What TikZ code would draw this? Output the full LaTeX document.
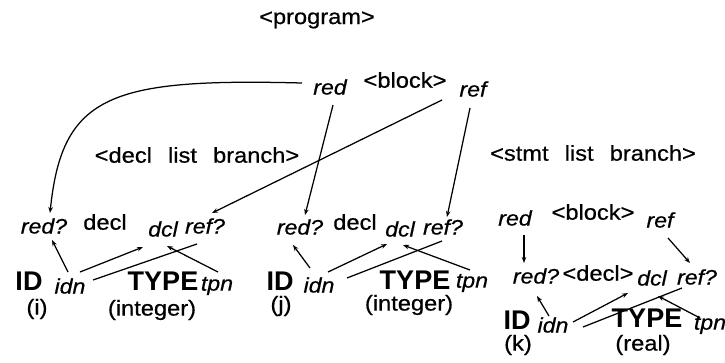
\documentclass[tikz,border=0pt]{standalone}
\usepackage{fontspec}
\setmainfont{Liberation Sans}[FakeStretch=1.1, FakeBold=0.6]
\newfontfamily\tokfont{Liberation Sans}
\usetikzlibrary{arrows.meta,calc}
\tikzset{
  lbl/.style={inner sep=0.5pt, font=\fontsize{21.5}{24}\selectfont},
  wide/.style={lbl, execute at begin node={\spaceskip=0.75em\relax}},
  att/.style={inner sep=0.5pt, font=\fontsize{21}{24}\selectfont\itshape},
  tok/.style={inner sep=0pt, font=\tokfont\fontsize{27}{30}\selectfont\bfseries},
  dep/.style={line width=1.25pt, -{Stealth[length=6pt,width=4.5pt]}},
  lnk/.style={line width=1.25pt}
}
\begin{document}
\begin{tikzpicture}[x=1pt,y=-1pt]
\useasboundingbox (0,0) rectangle (725,362);

% root and top block
\node[lbl] (prog) at (317,20) {<program>};
\node[att] (redA) at (330,87) {red};
\node[lbl] (blkA) at (405,80) {<block>};
\node[att] (refA) at (473,89) {ref};
\node[wide] (dlb) at (197,155) {<decl list branch>};
\node[wide] (slb) at (593,153) {<stmt list branch>};

% first declaration
\node[att] (r1) at (44,226) {red?};
\node[lbl] (d1) at (105,222) {decl};
\node[att] (c1) at (163,229) {dcl};
\node[att] (f1) at (205,226) {ref?};
\node[tok] (id1) at (29,281) {ID};
\node[att] (i1) at (70,286) {idn};
\node[tok] (ty1) at (163,281) {TYPE};
\node[att] (t1) at (217,286) {tpn};
\node[lbl] (v1) at (37,309) {(i)};
\node[lbl] (w1) at (152,310) {(integer)};

% second declaration
\node[att] (r2) at (300,227) {red?};
\node[lbl] (d2) at (355,222) {decl};
\node[att] (c2) at (400,229) {dcl};
\node[att] (f2) at (443,227) {ref?};
\node[tok] (id2) at (280,281) {ID};
\node[att] (i2) at (319,285) {idn};
\node[tok] (ty2) at (415,280) {TYPE};
\node[att] (t2) at (472,283) {tpn};
\node[lbl] (v2) at (281,306) {(j)};
\node[lbl] (w2) at (409,305) {(integer)};

% inner block
\node[att] (rb3) at (515,218) {red};
\node[lbl] (b3) at (593,212) {<block>};
\node[att] (fb3) at (660,220) {ref};
\node[att] (r3) at (536,276) {red?};
\node[lbl] (d3) at (598,273) {<decl>};
\node[att] (c3) at (652,278) {dcl};
\node[att] (f3) at (697,277) {ref?};
\node[tok] (id3) at (517,320) {ID};
\node[att] (i3) at (553,325) {idn};
\node[tok] (ty3) at (647,318) {TYPE};
\node[att] (t3) at (710,325) {tpn};
\node[lbl] (v3) at (518,345) {(k)};
\node[lbl] (w3) at (643,345) {(real)};

% block attributes to the declaration list
\draw[dep] ($(redA)+(-28,-4)$) .. controls ($(redA)+(-220,-9)$) and ($(r1)+(18,-131)$) .. ($(r1)+(6,-13)$);
\draw[dep] ($(redA)+(3,18)$) -- ($(r2)+(5,-12)$);
\draw[dep] ($(refA)+(-31,11)$) -- ($(f1)+(7,-13)$);
\draw[dep] ($(refA)+(-3,19)$) -- ($(f2)+(4,-10)$);

% first declaration
\draw[dep] ($(i1)+(-2,-14)$) -- ($(r1)+(8,14)$);
\draw[dep] ($(i1)+(10,-14)$) -- ($(c1)+(-20,18)$);
\draw[lnk] ($(i1)+(23,-6)$) -- ($(f1)+(-8,18)$);
\draw[dep] ($(t1)+(1,-14)$) -- ($(c1)+(4,17)$);

% second declaration
\draw[dep] ($(i2)+(-9,-17)$) -- ($(r2)+(-7,18)$);
\draw[dep] ($(i2)+(9,-13)$) -- ($(c2)+(-13,15)$);
\draw[lnk] ($(i2)+(28,-7)$) -- ($(f2)+(-1,14)$);
\draw[dep] ($(t2)+(-2,-13)$) -- ($(c2)+(3,16)$);

% inner block
\draw[dep] ($(rb3)+(9,17)$) -- ($(r3)+(-12,-13)$);
\draw[dep] ($(fb3)+(8,18)$) -- ($(f3)+(-7,-14)$);
\draw[dep] ($(i3)+(-4,-9)$) -- ($(r3)+(1,20)$);
\draw[dep] ($(i3)+(20,-3)$) -- ($(c3)+(-24,15)$);
\draw[lnk] ($(i3)+(30,2)$) -- ($(f3)+(-15,11)$);
\draw[dep] ($(t3)+(-10,-7)$) -- ($(c3)+(6,18)$);
\end{tikzpicture}
\end{document}
